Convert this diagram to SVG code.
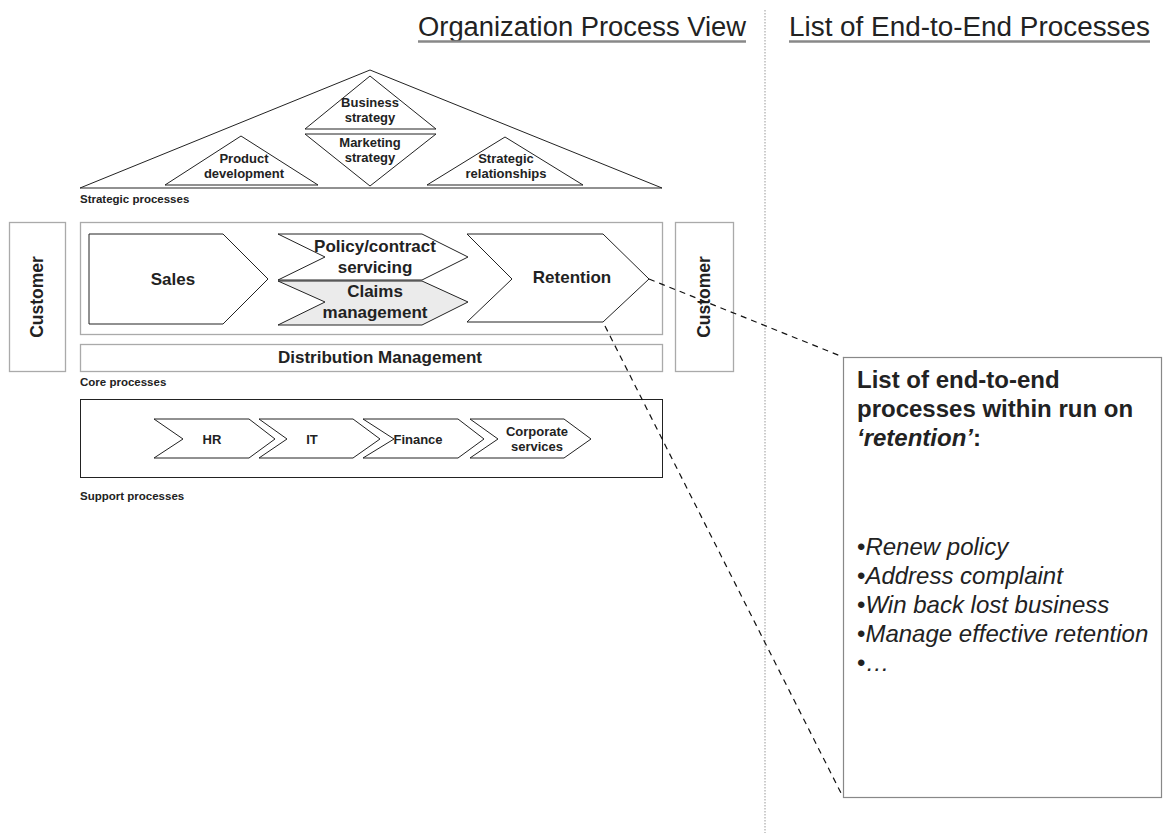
<svg xmlns="http://www.w3.org/2000/svg" width="1163" height="833" viewBox="0 0 1163 833">
<style>
.ln{fill:#fff;stroke:#222;stroke-width:1}
.gb{fill:#fff;stroke:#aaa;stroke-width:1.3}
.t{font-family:"Liberation Sans",Arial,sans-serif;font-weight:bold;fill:#222;text-anchor:middle}
.s{font-size:13px}
.m{font-size:17px}
.lab{font-family:"Liberation Sans",Arial,sans-serif;font-weight:bold;font-size:11.5px;fill:#222}
.ttl{font-family:"Liberation Sans",Arial,sans-serif;font-size:27px;fill:#222}
.ul{stroke:#888;stroke-width:2.5}
.dash{fill:none;stroke:#111;stroke-width:1.2;stroke-dasharray:6 5}
.li{font-family:"Liberation Sans",Arial,sans-serif;font-size:24px;font-style:italic;fill:#222}
.lb{font-family:"Liberation Sans",Arial,sans-serif;font-size:24px;font-weight:bold;fill:#222}
</style>
<rect width="1163" height="833" fill="#fff"/>
<g id="titles">
<text class="ttl" x="418" y="36" textLength="328" lengthAdjust="spacingAndGlyphs">Organization Process View</text>
<line class="ul" x1="418" y1="41.5" x2="746" y2="41.5"/>
<text class="ttl" x="789" y="36" textLength="361" lengthAdjust="spacingAndGlyphs">List of End-to-End Processes</text>
<line class="ul" x1="789" y1="41.5" x2="1150" y2="41.5"/>
<line x1="765" y1="10" x2="765" y2="833" stroke="#999" stroke-width="1" stroke-dasharray="1.5 1.5"/>
</g>
<g id="strategic">
<polygon class="ln" points="370,70 662,188 80,188"/>
<polygon class="ln" points="370,76 436,129 305,129"/>
<text class="t s" x="370" y="107">Business</text>
<text class="t s" x="370" y="122">strategy</text>
<polygon class="ln" points="305,134 436,134 370,186"/>
<text class="t s" x="370" y="147">Marketing</text>
<text class="t s" x="370" y="162">strategy</text>
<polygon class="ln" points="241,136 318,185 165,185"/>
<text class="t s" x="244" y="163">Product</text>
<text class="t s" x="244" y="178">development</text>
<polygon class="ln" points="505,137 583,185 427,185"/>
<text class="t s" x="506" y="163">Strategic</text>
<text class="t s" x="506" y="178">relationships</text>
<text class="lab" x="80" y="203">Strategic processes</text>
</g>
<g id="customer-left">
<rect class="gb" x="9.5" y="222.5" width="56" height="149"/>
<text class="t" font-size="17.5" transform="translate(43,297) rotate(-90)">Customer</text>
</g>
<g id="customer-right">
<rect class="gb" x="675.5" y="222.5" width="58" height="149"/>
<text class="t" font-size="17.5" transform="translate(710,297) rotate(-90)">Customer</text>
</g>
<g id="core">
<rect class="gb" x="80.5" y="222.5" width="582" height="112"/>
<polygon class="ln" points="89,234 223,234 268,279 223,324 89,324"/>
<text class="t m" x="173" y="285">Sales</text>
<polygon class="ln" points="278,234 422,234 468,257 422,280 278,280 325,257"/>
<text class="t m" x="375" y="252">Policy/contract</text>
<text class="t m" x="375" y="273">servicing</text>
<polygon points="278,281 422,281 468,302 422,325 278,325 325,302" fill="#ebebeb" stroke="#222" stroke-width="1"/>
<text class="t m" x="375" y="297">Claims</text>
<text class="t m" x="375" y="318">management</text>
<polygon class="ln" points="467,234 603,234 649,279 603,322 467,322 512,279"/>
<text class="t m" x="572" y="283">Retention</text>
</g>
<g id="distribution">
<rect class="gb" x="80.5" y="344.5" width="582" height="27"/>
<text class="t m" x="380" y="363">Distribution Management</text>
<text class="lab" x="80" y="386">Core processes</text>
</g>
<g id="support">
<rect class="ln" x="80.5" y="399.5" width="582" height="78"/>
<polygon class="ln" points="154,419 249,419 275,439 249,458 154,458 183,439"/>
<text class="t s" x="212" y="444">HR</text>
<polygon class="ln" points="259,419 353,419 380,439 353,458 259,458 287,439"/>
<text class="t s" x="312" y="444">IT</text>
<polygon class="ln" points="363,419 458,419 484,439 458,458 363,458 394,439"/>
<text class="t s" x="418" y="444">Finance</text>
<polygon class="ln" points="470,419 564,419 591,439 564,458 470,458 498,439"/>
<text class="t s" x="537" y="436">Corporate</text>
<text class="t s" x="537" y="451">services</text>
<text class="lab" x="80" y="500">Support processes</text>
</g>
<g id="connectors">
<line class="dash" x1="649" y1="279" x2="843" y2="357"/>
<line class="dash" x1="605" y1="326" x2="843" y2="797"/>
</g>
<g id="list-box">
<rect x="843.5" y="357.5" width="318" height="440" fill="#fff" stroke="#888" stroke-width="1.2"/>
<text class="lb" x="857" y="388">List of end-to-end</text>
<text class="lb" x="857" y="417">processes within run on</text>
<text class="lb" x="857" y="446"><tspan font-style="italic">‘retention’</tspan>:</text>
<text class="li" x="857" y="555"><tspan font-style="normal">•</tspan>Renew policy</text>
<text class="li" x="857" y="584"><tspan font-style="normal">•</tspan>Address complaint</text>
<text class="li" x="857" y="613"><tspan font-style="normal">•</tspan>Win back lost business</text>
<text class="li" x="857" y="642"><tspan font-style="normal">•</tspan>Manage effective retention</text>
<text class="li" x="857" y="671"><tspan font-style="normal">•</tspan>…</text>
</g>
</svg>
